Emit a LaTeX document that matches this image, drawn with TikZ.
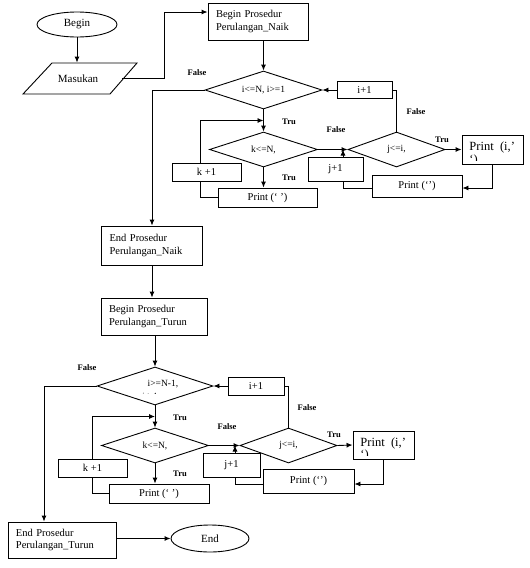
\documentclass[tikz,border=0pt]{standalone}
\usepackage{fontspec}
\setmainfont{Liberation Serif}
\usetikzlibrary{arrows.meta,shapes.geometric,calc}
\begin{document}
\begin{tikzpicture}[x=1pt,y=-1pt,line width=0.9pt,
  box/.style={draw,rectangle,inner sep=0pt,font=\fontsize{10.5}{12}\selectfont},
  pbox/.style={draw,rectangle,inner xsep=8pt,inner ysep=0pt,align=left,font=\fontsize{10.5}{12.5}\selectfont},
  dia/.style={draw,diamond,aspect=3,inner sep=0pt,font=\fontsize{9.5}{11}\selectfont},
  term/.style={draw,ellipse,inner sep=0pt,font=\fontsize{11}{12}\selectfont},
  lbl/.style={font=\bfseries\fontsize{8.5}{10}\selectfont,inner sep=0pt},
  big/.style={font=\fontsize{12.5}{14}\selectfont,inner sep=0pt},
  arr/.style={-{Latex[length=6pt,width=5pt]}}]
\useasboundingbox (0,0) rectangle (530,568);
% ---------- top part
\node[term,minimum width=80,minimum height=25] (begin) at (77,24.5) {Begin};
\draw (52,63) -- (137,63) -- (110,94) -- (23,94) -- cycle;
\node[minimum width=87,minimum height=31,inner sep=0pt,font=\fontsize{11}{12}\selectfont] (masukan) at (78,78.5) {Masukan};
\draw[arr] (begin.south) -- (begin.south |- masukan.north);
\node[pbox,text width=84,minimum height=37] (bpn) at (258,21.5) {Begin Prosedur\\Perulangan\_Naik};
\draw[arr] (masukan.east) -- ++(42.5,0) |- ([yshift=9.5pt]bpn.west);
\node[dia,minimum width=117,minimum height=38] (d1) at (263.5,90) {i<=N, i>=1};
\draw[arr] (bpn.south -| d1.north) -- (d1.north);
\node[lbl] (f1) at (197,73) {False};
\node[box,minimum width=55,minimum height=17] (ip1) at (364.5,90) {i+1};
\draw[arr] (ip1.west) -- (d1.east);
\node[dia,minimum width=108,minimum height=35] (kd1) at (263.5,149.5) {k<=N,};
\draw[arr] (d1.south) -- (kd1.north);
\node[lbl] (t1) at (289,122) {Tru};
\node[box,minimum width=69,minimum height=18] (kp1) at (206.5,172) {k +1};
\node[box,minimum width=99,minimum height=19] (pr1) at (267.5,197.5) {Print (‘ ’)};
\draw[arr] (kd1.south) -- (kd1.south |- pr1.north);
\node[lbl] (t2) at (289,178) {Tru};
\draw (pr1.west) -| ([xshift=-6.5pt]kp1.south);
\draw[arr] ([xshift=-6.5pt]kp1.north) |- ($(d1.south)!0.5!(kd1.north)$);
\node[dia,minimum width=97,minimum height=35] (jd1) at (396.5,149.5) {j<=i,};
\draw (jd1.north) |- (ip1.east);
\node[lbl] (f2) at (416,112) {False};
\draw[arr] (kd1.east) -- (jd1.west);
\node[lbl] (f3) at (336,130) {False};
\node[box,minimum width=55,minimum height=24] (jp1) at (335.5,169) {j+1};
\draw[arr] ([xshift=7.5pt]jp1.north) -- ([xshift=7.5pt]jp1.north |- jd1.west);
\node[box,minimum width=90,minimum height=22] (pq1) at (417,186) {Print (‘’)};
\draw ([yshift=-2pt]pq1.west) -| ([xshift=7.5pt]jp1.south);
\node[draw,minimum width=61,minimum height=29,inner sep=0pt] (pi1) at (492.5,149.5) {};
\node[big,anchor=base west] (pi1a) at (469,150) {Print\ \ (i,’};
\begin{scope}
\clip (pi1.north west) rectangle ([yshift=4pt]pi1.south east);
\node[big,anchor=base west] (pi1b) at (469,163) {‘)};
\end{scope}
\draw[arr] (jd1.east) -- (pi1.west);
\node[lbl] (t3) at (442,140) {Tru};
\draw[arr] (pi1.south) |- ([yshift=-2pt]pq1.east);
% ---------- middle
\node[pbox,text width=85,minimum height=39] (en) at (152,245.5) {End Prosedur\\Perulangan\_Naik};
\draw[arr] (d1.west) -| (en.north);
\node[pbox,text width=90,minimum height=37] (bt) at (154,316.5) {Begin Prosedur\\Perulangan\_Turun};
\draw[arr] (en.south) -- (en.south |- bt.north);
% ---------- bottom part
\node[dia,minimum width=116,minimum height=38] (d2) at (155,386) {};
\draw[arr] (bt.south -| d2.north) -- (d2.north);
\node[inner sep=0pt,font=\fontsize{9.5}{11}\selectfont] (d2t) at (163,384) {i>=N-1,};
\begin{scope}
\clip (120,367) rectangle (200,393.5);
\node[inner sep=0pt,anchor=base,font=\fontsize{8}{10}\selectfont] (d2u) at (150,398) {i<=1};
\end{scope}
\node[lbl] (f4) at (87,368) {False};
\node[box,minimum width=56,minimum height=18] (ip2) at (256,386) {i+1};
\draw[arr] (ip2.west) -- (d2.east);
\node[dia,minimum width=107,minimum height=35] (kd2) at (155,445.5) {k<=N,};
\draw[arr] (d2.south) -- (kd2.north);
\node[lbl] (t4) at (180,418) {Tru};
\node[box,minimum width=69,minimum height=18] (kp2) at (92.5,468) {k +1};
\node[box,minimum width=100,minimum height=19] (pr2) at (159,493.5) {Print (‘ ’)};
\draw[arr] (kd2.south) -- (kd2.south |- pr2.north);
\node[lbl] (t5) at (180,474) {Tru};
\draw (pr2.west) -| (kp2.south);
\draw[arr] (kp2.north) |- ($(d2.south)!0.5!(kd2.north)$);
\node[dia,minimum width=97,minimum height=35] (jd2) at (288.5,445.5) {j<=i,};
\draw (jd2.north) |- (ip2.east);
\node[lbl] (f5) at (307,408) {False};
\draw[arr] (kd2.east) -- (jd2.west);
\node[lbl] (f6) at (227,427) {False};
\node[box,minimum width=57,minimum height=24] (jp2) at (231.5,465) {j+1};
\draw[arr] ([xshift=3.5pt]jp2.north) -- ([xshift=3.5pt]jp2.north |- jd2.west);
\node[box,minimum width=91,minimum height=24] (pq2) at (308.5,481) {Print (‘’)};
\draw ([yshift=-3pt]pq2.west) -| ([xshift=3.5pt]jp2.south);
\node[draw,minimum width=61,minimum height=28,inner sep=0pt] (pi2) at (383.5,445) {};
\node[big,anchor=base west] (pi2a) at (360,446) {Print\ \ (i,’};
\begin{scope}
\clip (pi2.north west) rectangle ([yshift=4pt]pi2.south east);
\node[big,anchor=base west] (pi2b) at (360,458) {‘)};
\end{scope}
\draw[arr] (jd2.east) -- (pi2.west);
\node[lbl] (t6) at (334,435) {Tru};
\draw[arr] (pi2.south) |- ([yshift=-3pt]pq2.east);
\node[pbox,text width=92,minimum height=36] (et) at (62,540) {End Prosedur\\Perulangan\_Turun};
\draw[arr] (d2.west) -| ([xshift=-18pt]et.north);
\node[term,minimum width=78,minimum height=27] (fin) at (210,538.5) {End};
\draw[arr] ([yshift=1.5pt]et.east) -- (fin.west);
\end{tikzpicture}
\end{document}
